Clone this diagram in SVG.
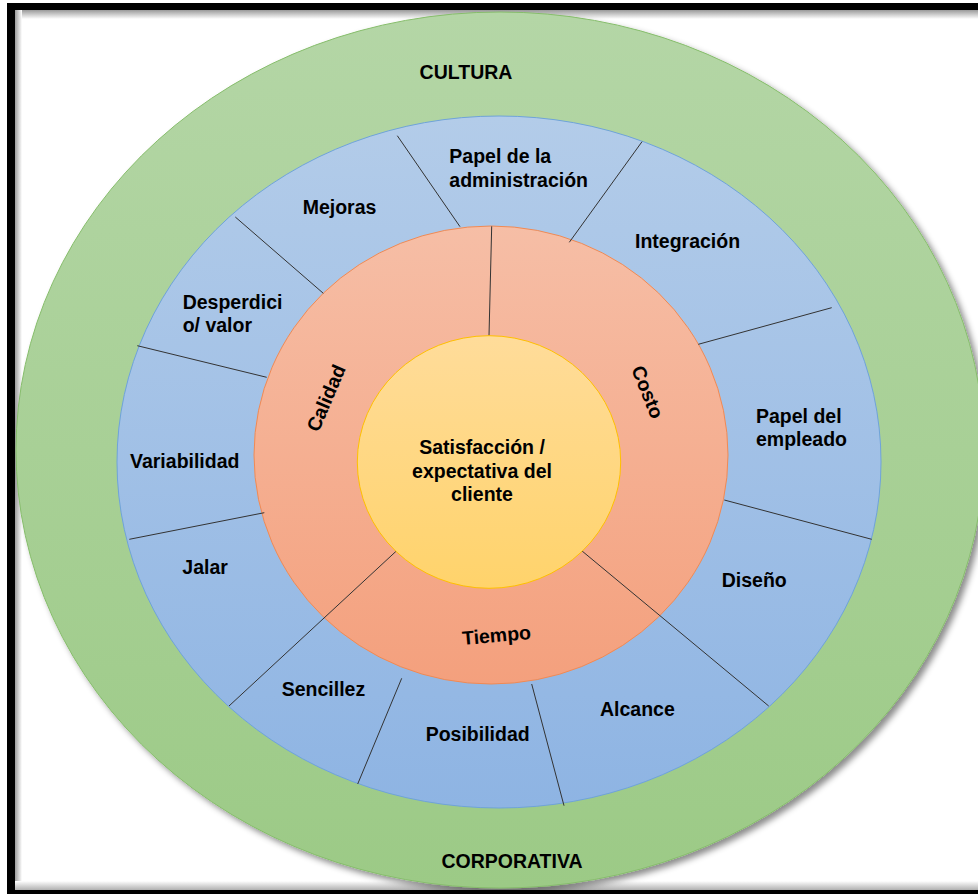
<svg xmlns="http://www.w3.org/2000/svg" width="978" height="894" viewBox="0 0 978 894">
<defs>
<linearGradient id="gGreen" x1="0" y1="0" x2="0" y2="1"><stop offset="0" stop-color="#b4d6a6"/><stop offset="1" stop-color="#9cca86"/></linearGradient>
<linearGradient id="gBlue" x1="0" y1="0" x2="0" y2="1"><stop offset="0" stop-color="#b3cce9"/><stop offset="1" stop-color="#8eb4e3"/></linearGradient>
<linearGradient id="gOrange" x1="0" y1="0" x2="0" y2="1"><stop offset="0" stop-color="#f6bea6"/><stop offset="1" stop-color="#f4a07d"/></linearGradient>
<linearGradient id="gYellow" x1="0" y1="0" x2="0" y2="1"><stop offset="0" stop-color="#ffdc9a"/><stop offset="1" stop-color="#ffd36b"/></linearGradient>
<linearGradient id="shL" x1="0" y1="0" x2="1" y2="0"><stop offset="0" stop-color="#9a9a9a"/><stop offset="1" stop-color="#ffffff"/></linearGradient>
<linearGradient id="shT" x1="0" y1="0" x2="0" y2="1"><stop offset="0" stop-color="#9a9a9a"/><stop offset="1" stop-color="#ffffff"/></linearGradient>
<linearGradient id="shB" x1="0" y1="0" x2="0" y2="1"><stop offset="0" stop-color="#ffffff"/><stop offset="1" stop-color="#b0b0b0"/></linearGradient>
<filter id="shadow" x="-5%" y="-5%" width="112%" height="112%"><feDropShadow dx="4" dy="4" stdDeviation="3" flood-color="#000" flood-opacity="0.45"/></filter>
</defs>
<style>
text{font-family:"Liberation Sans",Arial,sans-serif;font-weight:bold;font-size:19.5px;fill:#000}
.mid{text-anchor:middle}
.sep{stroke:#333;stroke-width:1;fill:none}
</style>
<g id="frame">
<rect x="0" y="0" width="978" height="894" fill="#fff"/>
<rect x="7" y="3" width="980" height="891" fill="#000"/>
<rect x="15" y="10" width="970" height="880" fill="#fff"/>
<rect x="15" y="10" width="970" height="9" fill="url(#shT)"/>
<rect x="15" y="10" width="7" height="880" fill="url(#shL)"/>
<rect x="15" y="881" width="970" height="9" fill="url(#shB)"/>
</g>
<g id="cultura-corporativa">
<ellipse cx="500" cy="450" rx="484" ry="438" fill="url(#gGreen)" stroke="#86bd6b" stroke-width="1" filter="url(#shadow)"/>
<text class="mid" x="466" y="79">CULTURA</text>
<text class="mid" x="512" y="868">CORPORATIVA</text>
</g>
<g id="anillo-azul">
<ellipse cx="499" cy="462" rx="382" ry="346" fill="url(#gBlue)" stroke="#6fa3da" stroke-width="1"/>
</g>
<g id="anillo-naranja">
<ellipse cx="491" cy="455" rx="237" ry="229" fill="url(#gOrange)" stroke="#ef8a55" stroke-width="1"/>
</g>
<g id="connectors">
<line class="sep" x1="397.3" y1="135.7" x2="460" y2="226.7"/>
<line class="sep" x1="642" y1="141.7" x2="569.3" y2="242.3"/>
<line class="sep" x1="831.7" y1="307.7" x2="698.3" y2="344.3"/>
<line class="sep" x1="724.3" y1="500" x2="871.7" y2="539.3"/>
<line class="sep" x1="581.7" y1="550.7" x2="768.7" y2="706"/>
<line class="sep" x1="531.7" y1="684" x2="564" y2="805.7"/>
<line class="sep" x1="401.7" y1="678.3" x2="357.7" y2="784"/>
<line class="sep" x1="396.7" y1="550.7" x2="229" y2="706"/>
<line class="sep" x1="264.3" y1="512.7" x2="129.3" y2="539.3"/>
<line class="sep" x1="266.7" y1="377.3" x2="137.3" y2="345.7"/>
<line class="sep" x1="323.3" y1="293.3" x2="235.3" y2="217"/>
<line class="sep" x1="491.7" y1="226.3" x2="489" y2="335.7"/>
</g>
<g id="centro">
<ellipse cx="489" cy="462" rx="131.7" ry="126.3" fill="url(#gYellow)" stroke="#ffc000" stroke-width="1"/>
<text class="mid" x="482" y="454.3">Satisfacción /</text>
<text class="mid" x="482" y="477.7">expectativa del</text>
<text class="mid" x="482" y="501">cliente</text>
</g>
<g id="calidad"><text class="mid" transform="translate(332.3,400.7) rotate(-67)">Calidad</text></g>
<g id="costo"><text class="mid" transform="translate(641.4,394.5) rotate(68)">Costo</text></g>
<g id="tiempo"><text class="mid" transform="translate(497,642) rotate(-5)">Tiempo</text></g>
<g id="papel-administracion"><text x="449.3" y="163.3">Papel de la</text><text x="449.3" y="187">administración</text></g>
<g id="integracion"><text x="635" y="248.3">Integración</text></g>
<g id="papel-empleado"><text x="756" y="423">Papel del</text><text x="756" y="446">empleado</text></g>
<g id="diseno"><text x="721.7" y="586.7">Diseño</text></g>
<g id="alcance"><text x="600" y="716">Alcance</text></g>
<g id="posibilidad"><text x="425.7" y="740.7">Posibilidad</text></g>
<g id="sencillez"><text x="281.7" y="696">Sencillez</text></g>
<g id="jalar"><text x="182.3" y="574">Jalar</text></g>
<g id="variabilidad"><text x="130" y="467.7">Variabilidad</text></g>
<g id="desperdicio"><text x="182.7" y="309">Desperdici</text><text x="182.7" y="331.7">o/ valor</text></g>
<g id="mejoras"><text x="302.7" y="214">Mejoras</text></g>
</svg>
